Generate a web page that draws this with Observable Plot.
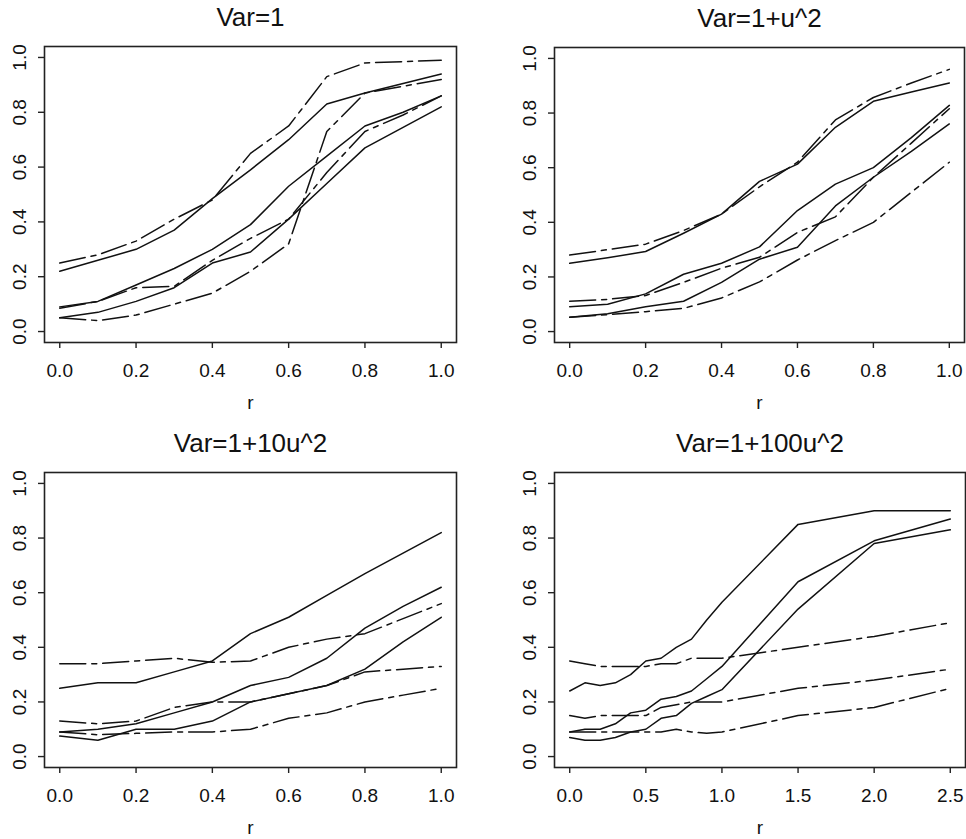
<!DOCTYPE html>
<html>
<head>
<meta charset="utf-8">
<script src="https://cdn.jsdelivr.net/npm/d3@7"></script>
<script src="https://cdn.jsdelivr.net/npm/@observablehq/plot@0.6"></script>
<style>
  body { margin: 0; background: #fff; }
  #wrap { position: relative; width: 966px; height: 839px; background: #fff; }
  #wrap > svg { position: absolute; }
</style>
</head>
<body>
<div id="wrap"></div>
<script>
// ---- data ----
const titles = ["Var=1", "Var=1+u^2", "Var=1+10u^2", "Var=1+100u^2"];
const r10 = [0, 0.1, 0.2, 0.3, 0.4, 0.5, 0.6, 0.7, 0.8, 0.9, 1.0];
const r14 = [0, 0.1, 0.2, 0.3, 0.4, 0.5, 0.6, 0.7, 0.8, 0.9, 1.0, 1.5, 2.0, 2.5];
const yTicks = [0, 0.2, 0.4, 0.6, 0.8, 1.0];
const xTicks1 = [0, 0.2, 0.4, 0.6, 0.8, 1.0];
const xTicks4 = [0, 0.5, 1.0, 1.5, 2.0, 2.5];

// Panel 1: Var=1
const p1_solid_a = [0.22, 0.26, 0.30, 0.37, 0.485, 0.59, 0.70, 0.83, 0.87, 0.905, 0.94];
const p1_solid_b = [0.09, 0.11, 0.17, 0.23, 0.30, 0.39, 0.53, 0.64, 0.75, 0.80, 0.86];
const p1_solid_c = [0.05, 0.07, 0.11, 0.16, 0.25, 0.29, 0.41, 0.54, 0.67, 0.745, 0.82];
const p1_dash_a  = [0.25, 0.28, 0.33, 0.41, 0.48, 0.65, 0.75, 0.93, 0.98, 0.985, 0.99];
const p1_dash_b  = [0.085, 0.11, 0.16, 0.165, 0.26, 0.34, 0.41, 0.58, 0.73, 0.79, 0.86];
const p1_dash_c  = [0.05, 0.04, 0.06, 0.10, 0.14, 0.22, 0.32, 0.73, 0.87, 0.895, 0.92];

// Panel 2: Var=1+u^2
const p2_solid_a = [0.25, 0.27, 0.293, 0.36, 0.43, 0.55, 0.613, 0.748, 0.843, 0.877, 0.91];
const p2_solid_b = [0.091, 0.10, 0.138, 0.21, 0.25, 0.31, 0.443, 0.54, 0.60, 0.71, 0.828];
const p2_solid_c = [0.052, 0.065, 0.091, 0.111, 0.18, 0.265, 0.309, 0.46, 0.565, 0.66, 0.76];
const p2_dash_a  = [0.28, 0.30, 0.32, 0.37, 0.43, 0.53, 0.62, 0.775, 0.857, 0.91, 0.96];
const p2_dash_b  = [0.111, 0.118, 0.132, 0.18, 0.232, 0.272, 0.363, 0.42, 0.565, 0.69, 0.816];
const p2_dash_c  = [0.052, 0.062, 0.073, 0.085, 0.123, 0.182, 0.262, 0.333, 0.40, 0.51, 0.62];

// Panel 3: Var=1+10u^2
const p3_solid_a = [0.25, 0.27, 0.27, 0.31, 0.35, 0.45, 0.51, 0.59, 0.67, 0.745, 0.82];
const p3_solid_b = [0.09, 0.10, 0.12, 0.16, 0.20, 0.26, 0.29, 0.36, 0.47, 0.55, 0.62];
const p3_solid_c = [0.075, 0.06, 0.10, 0.10, 0.13, 0.20, 0.23, 0.26, 0.32, 0.42, 0.51];
const p3_dash_a  = [0.34, 0.34, 0.35, 0.36, 0.345, 0.35, 0.40, 0.43, 0.45, 0.505, 0.56];
const p3_dash_b  = [0.13, 0.12, 0.13, 0.18, 0.20, 0.20, 0.23, 0.26, 0.31, 0.32, 0.33];
const p3_dash_c  = [0.09, 0.08, 0.085, 0.09, 0.09, 0.10, 0.14, 0.16, 0.20, 0.225, 0.25];

// Panel 4: Var=1+100u^2
const p4_solid_a = [0.24, 0.27, 0.26, 0.27, 0.30, 0.35, 0.36, 0.40, 0.43, 0.50, 0.565, 0.85, 0.90, 0.90];
const p4_solid_b = [0.09, 0.10, 0.10, 0.12, 0.16, 0.17, 0.21, 0.22, 0.24, 0.285, 0.33, 0.64, 0.79, 0.87];
const p4_solid_c = [0.07, 0.06, 0.06, 0.07, 0.09, 0.10, 0.14, 0.15, 0.195, 0.22, 0.245, 0.54, 0.78, 0.83];
const p4_dash_a  = [0.35, 0.34, 0.33, 0.33, 0.33, 0.33, 0.34, 0.34, 0.36, 0.36, 0.36, 0.40, 0.44, 0.49];
const p4_dash_b  = [0.15, 0.14, 0.15, 0.15, 0.15, 0.15, 0.18, 0.19, 0.20, 0.20, 0.20, 0.25, 0.28, 0.32];
const p4_dash_c  = [0.09, 0.09, 0.09, 0.09, 0.09, 0.09, 0.09, 0.10, 0.09, 0.085, 0.09, 0.15, 0.18, 0.25];

// ---- build tidy tables ----
function tidy(xs, seriesMap) {
  const rows = [];
  for (const [name, vals] of Object.entries(seriesMap)) {
    vals.forEach((v, i) => rows.push({r: xs[i], v, s: name}));
  }
  return rows;
}
const panels = [
  {title: titles[0], xs: r10, xTicks: xTicks1, xDomain: [-0.04, 1.04],
   solid: {a: p1_solid_a, b: p1_solid_b, c: p1_solid_c}, dash: {a: p1_dash_a, b: p1_dash_b, c: p1_dash_c},
   left: 0, top: 0, width: 483, height: 420, mL: 44, mR: 27, mT: 46, mB: 78},
  {title: titles[1], xs: r10, xTicks: xTicks1, xDomain: [-0.04, 1.04],
   solid: {a: p2_solid_a, b: p2_solid_b, c: p2_solid_c}, dash: {a: p2_dash_a, b: p2_dash_b, c: p2_dash_c},
   left: 483, top: 0, width: 483, height: 420, mL: 71, mR: 2, mT: 47, mB: 78},
  {title: titles[2], xs: r10, xTicks: xTicks1, xDomain: [-0.04, 1.04],
   solid: {a: p3_solid_a, b: p3_solid_b, c: p3_solid_c}, dash: {a: p3_dash_a, b: p3_dash_b, c: p3_dash_c},
   left: 0, top: 420, width: 483, height: 419, mL: 44, mR: 27, mT: 52, mB: 72},
  {title: titles[3], xs: r14, xTicks: xTicks4, xDomain: [-0.1, 2.6],
   solid: {a: p4_solid_a, b: p4_solid_b, c: p4_solid_c}, dash: {a: p4_dash_a, b: p4_dash_b, c: p4_dash_c},
   left: 483, top: 420, width: 483, height: 419, mL: 71, mR: 1, mT: 52, mB: 72}
];

const ink = "#111";
const fam = "'Liberation Sans', Arial, Helvetica, sans-serif";
const wrap = document.getElementById("wrap");

for (const p of panels) {
  const solidRows = tidy(p.xs, p.solid);
  const dashRows = tidy(p.xs, p.dash);
  const chart = Plot.plot({
    width: p.width,
    height: p.height,
    marginLeft: p.mL, marginRight: p.mR, marginTop: p.mT, marginBottom: p.mB,
    x: {domain: p.xDomain, label: null},
    y: {domain: [-0.04, 1.04], label: null},
    style: {fontFamily: fam, fontSize: "19px", color: ink, background: "transparent", overflow: "visible"},
    marks: [
      Plot.frame({stroke: "#222", strokeWidth: 1.6}),
      Plot.axisX({ticks: p.xTicks, tickSize: 6, tickPadding: 15, tickFormat: d => d.toFixed(1),
                  fontSize: 19, stroke: "#222", strokeWidth: 1.4}),
      Plot.axisY({ticks: yTicks, tickSize: 6, tickFormat: () => "", stroke: "#222", strokeWidth: 1.4}),
      Plot.text(yTicks, {y: d => d, text: d => d.toFixed(1), frameAnchor: "left", dx: -19,
                         rotate: -90, lineAnchor: "bottom", textAnchor: "middle", fontSize: 19, fill: ink}),
      Plot.line(solidRows, {x: "r", y: "v", z: "s", stroke: ink, strokeWidth: 1.5}),
      Plot.line(dashRows, {x: "r", y: "v", z: "s", stroke: ink, strokeWidth: 1.5, strokeDasharray: "26,6,5,6"}),
      Plot.text([p.title], {frameAnchor: "top", dy: -21, lineAnchor: "bottom", fontSize: 26, fill: ink}),
      Plot.text(["r"], {frameAnchor: "bottom", dy: 66, lineAnchor: "bottom", fontSize: 19, fill: ink})
    ]
  });
  chart.style.left = p.left + "px";
  chart.style.top = p.top + "px";
  wrap.appendChild(chart);
}
</script>
</body>
</html>
